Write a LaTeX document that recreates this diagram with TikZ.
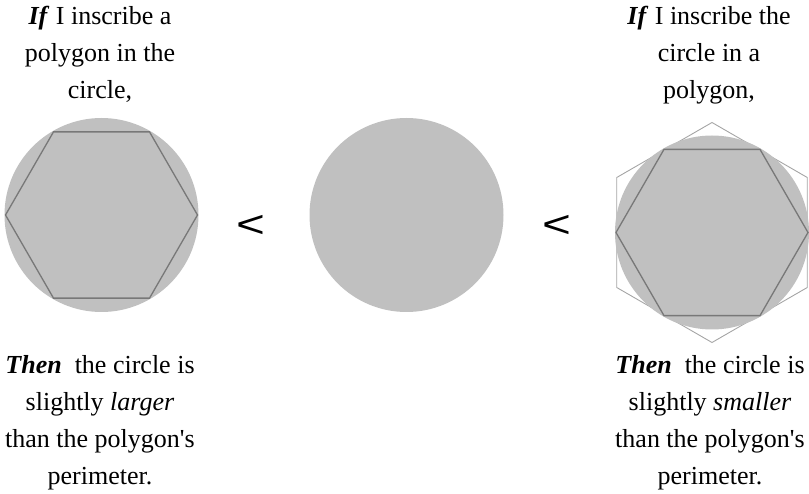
\documentclass[tikz,border=0pt]{standalone}
\usepackage{fontspec}
\setmainfont{Liberation Serif}
\newfontfamily\lessfont{Liberation Sans}
\usetikzlibrary{shapes.geometric}
\definecolor{DiscGray}{RGB}{192,192,192}
\definecolor{HexGray}{RGB}{120,120,120}
\definecolor{OuterGray}{RGB}{165,165,165}
\tikzset{
  disc/.style={circle,fill=DiscGray,minimum size=194pt,inner sep=0pt},
  inhex/.style={regular polygon,regular polygon sides=6,draw=HexGray,
    line width=1.3pt,minimum size=192pt,inner sep=0pt},
  outhex/.style={regular polygon,regular polygon sides=6,shape border rotate=30,
    draw=OuterGray,line width=0.9pt,minimum size=220pt,inner sep=0pt},
  caption/.style={align=center,anchor=base,inner sep=0pt,
    font=\fontsize{26}{37}\selectfont},
  lessthan/.style={inner sep=0pt,font=\lessfont\fontsize{38}{38}\selectfont}
}

\begin{document}
\begin{tikzpicture}[x=1pt,y=-1pt]
      \useasboundingbox (0,0) rectangle (809,494);
      % inscribed polygon
      \node[disc] (ldisc) at (101.5,215) {};
      \node[inhex] (lhex) at (101.5,215) {};
      % plain circle
      \node[disc] (mdisc) at (406.5,215) {};
      % circumscribed polygon
      \node[outhex] (routhex) at (712,232.5) {};
      \node[disc] (rdisc) at (712,232.5) {};
      \node[inhex] (rhex) at (712,232.5) {};
      \node[lessthan] (lt1) at (250.5,226.5) {\scalebox{1.3}[1]{<}};
      \node[lessthan] (lt2) at (557,226.5) {\scalebox{1.3}[1]{<}};
      % captions (base = last line)
      \node[caption] (lif) at (100,99)
        {\textbf{\textit{If}} I inscribe a\\polygon in the\\circle,};
      \node[caption] (rif) at (709,99)
        {\textbf{\textit{If}} I inscribe the\\circle in a\\polygon,};
      \node[caption] (lthen) at (100,484.5)
        {\textbf{\textit{Then}}\ \ the circle is\\slightly \textit{larger}\\than the polygon\textquotesingle s\\perimeter.};
      \node[caption] (rthen) at (710,484.5)
        {\textbf{\textit{Then}}\ \ the circle is\\slightly \textit{smaller}\\than the polygon\textquotesingle s\\perimeter.};
\end{tikzpicture}
\end{document}
